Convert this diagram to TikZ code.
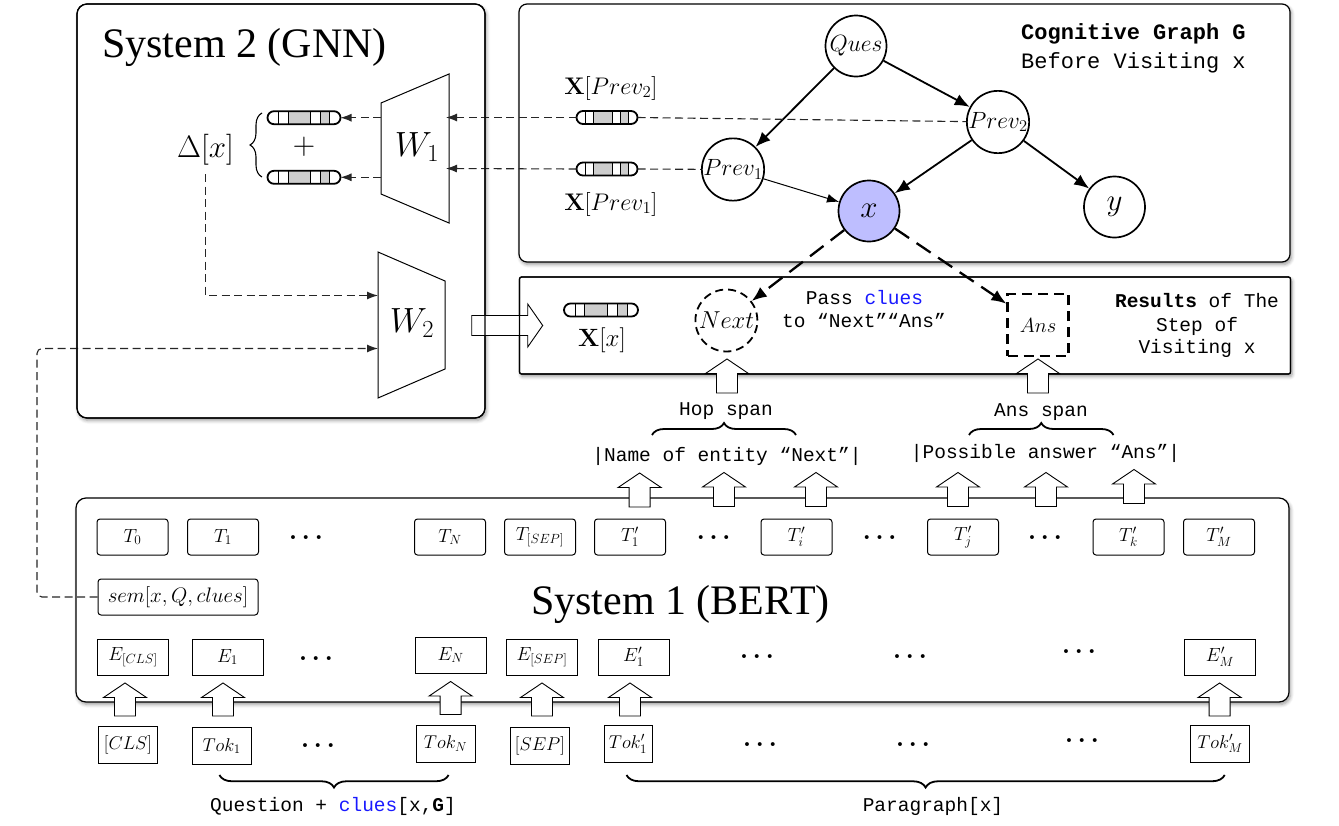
\RequirePackage{fix-cm}
\documentclass[tikz,border=0pt]{standalone}
\usepackage[no-math]{fontspec}
\setmainfont{Liberation Serif}
\newfontfamily\codefont{Liberation Mono}
\usepackage{amsmath}
\usetikzlibrary{arrows.meta,calc,decorations.pathreplacing,shadows.blur}

\definecolor{visitfill}{RGB}{190,190,255}
\definecolor{clueblue}{RGB}{25,25,255}
\definecolor{cellgray}{RGB}{205,205,205}

\newcommand{\fsz}[1]{\fontsize{#1}{#1}\selectfont}

\tikzset{
  panel/.style={draw, line width=1.2pt, fill=white, outer sep=0pt, inner sep=0pt,
    rounded corners=#1,
    blur shadow={shadow xshift=1.5pt, shadow yshift=-2.5pt,
      shadow blur radius=3.5pt, shadow blur steps=6}},
  panelline/.style={draw, line width=1.2pt, rounded corners=#1},
  tbox/.style={draw, line width=1pt, rounded corners=3pt, minimum width=71pt,
    minimum height=36pt, inner sep=0pt, font=\fsz{19}},
  ebox/.style={draw, line width=1pt, minimum width=71pt, minimum height=36pt,
    inner sep=0pt, font=\fsz{19}},
  tokbox/.style={draw, line width=1pt, minimum width=59pt, minimum height=37pt,
    inner sep=0pt, font=\fsz{18.5}},
  dotsl/.style={inner sep=0pt, font=\fsz{25}},
  gnode/.style={circle, draw, line width=1.7pt, minimum size=61pt, inner sep=0pt,
    font=\fsz{23.5}},
  gedge/.style={line width=1.8pt, -{Latex[length=15pt,width=12pt]}},
  gedgethin/.style={line width=1pt, -{Latex[length=12pt,width=9pt]}},
  hopline/.style={line width=2.3pt, dash pattern=on 17pt off 9pt,
    -{Latex[length=15pt,width=12pt]}},
  dlink/.style={line width=1.1pt, black!85, dash pattern=on 8pt off 4.5pt},
  dtip/.style={-{Latex[length=11pt,width=8pt]}},
  code/.style={inner sep=0pt, font=\codefont\fsz{19.5}},
  codebig/.style={inner sep=0pt, font=\codefont\fsz{22}},
  mlabel/.style={inner sep=0pt, font=\fsz{#1}},
  bracetop/.style={decorate, decoration={brace, amplitude=12pt}, line width=1.8pt},
  bracebottom/.style={decorate, decoration={brace, mirror, amplitude=12.5pt},
    line width=1.8pt},
  % capsule-shaped feature vector with white and grey cells
  vecbar/.style={draw, line width=1.8pt, rounded corners=6.5pt, minimum width=#1,
    minimum height=13pt, inner sep=0pt, outer sep=0pt,
    path picture={
      \path (path picture bounding box.south west) coordinate (vbA)
            (path picture bounding box.north east) coordinate (vbB);
      \fill[cellgray, sharp corners] ($(vbA)!0.28!(vbA-|vbB)$) rectangle ($(vbB-|vbA)!0.59!(vbB)$);
      \fill[cellgray, sharp corners] ($(vbA)!0.72!(vbA-|vbB)$) rectangle ($(vbB-|vbA)!0.85!(vbB)$);
      \foreach \f in {0.15,0.28,0.59,0.72,0.85}
        \draw[line width=0.8pt, sharp corners] ($(vbA)!\f!(vbA-|vbB)$) -- ($(vbB-|vbA)!\f!(vbB)$);
    }},
  % hollow block arrows
  hollowup/.pic={
    \draw[line width=0.9pt, fill=white, sharp corners]
      (-10.5,0) -- (-10.5,-#1+14.5) -- (-21.5,-#1+14.5) -- (0,-#1)
      -- (21.5,-#1+14.5) -- (10.5,-#1+14.5) -- (10.5,0) -- cycle;
  },
  hollowright/.pic={
    \draw[line width=0.9pt, fill=white, sharp corners]
      (0,-10) -- (#1-15,-10) -- (#1-15,-21.5) -- (#1,0)
      -- (#1-15,21.5) -- (#1-15,10) -- (0,10) -- cycle;
  },
}

\begin{document}
\begin{tikzpicture}[x=1pt, y=-1pt]
\useasboundingbox (0,0) rectangle (1339,825);

% ---------- panels ----------
\node[panel=10pt, minimum width=408pt, minimum height=414pt] (sys2) at (281,211) {};
\node[panel=8pt, minimum width=771pt, minimum height=258pt] (cog) at (904.5,133) {};
\node[panel=2pt, minimum width=771pt, minimum height=97pt] (res) at (905,325.5) {};
\node[panel=10pt, minimum width=1213pt, minimum height=204pt] (sys1) at (682.5,600) {};

% ---------- System 2 (GNN) ----------
\node[anchor=base west, inner sep=0pt, font=\fsz{42}] (sys2title) at (102,57.7) {System 2 (GNN)};

\coordinate (w1a) at (381,103);
\coordinate (w1b) at (449,74);
\coordinate (w1c) at (449,223);
\coordinate (w1d) at (381,194);
\draw[line width=1pt] (w1a) -- (w1b) -- (w1c) -- (w1d) -- cycle;
\node[mlabel=35] (w1) at (417,147) {$W_1$};

\coordinate (w2a) at (378,252);
\coordinate (w2b) at (445,281);
\coordinate (w2c) at (445,369);
\coordinate (w2d) at (378,398);
\draw[line width=1pt] (w2a) -- (w2b) -- (w2c) -- (w2d) -- cycle;
\node[mlabel=35] (w2) at (412,323) {$W_2$};

\coordinate (w1in1) at (446,117.5);
\coordinate (w1in2) at (446,168.5);
\coordinate (w1out1) at (381,117.7);
\coordinate (w1out2) at (381,177.3);
\coordinate (w2in1) at (378,295.5);
\coordinate (w2in2) at (378,348.5);
\coordinate (semturn) at (37,348.5);

\node[vecbar=73pt] (d1) at (304,117.7) {};
\node[vecbar=73pt] (d2) at (304,177.3) {};
\node[mlabel=31] (plus) at (304,147) {$+$};
\node[mlabel=31] (dx) at (205.5,149.5) {$\Delta[x]$};
\draw[decorate, decoration={brace, amplitude=12pt}, line width=1.1pt] (262,177) -- (262,113);

\draw[dlink, dtip] (w1out1) -- (d1.east);
\draw[dlink, dtip] (w1out2) -- (d2.east);
\draw[dlink, dtip, shorten <=9pt] (dx.south) |- (w2in1);

% ---------- Cognitive graph ----------
\node[codebig, anchor=base west] (cgtitle) at (1021,39.5) {\bfseries Cognitive Graph G};
\node[codebig, anchor=base west] (cgsub) at (1021,68.5) {Before Visiting x};

\node[gnode] (ques) at (856,46) {$Ques$};
\node[gnode] (prev2) at (998,122) {$Prev_2$};
\node[gnode] (prev1) at (733,169.5) {$Prev_1$};
\node[gnode, fill=visitfill, font=\fsz{31}] (xn) at (869,211) {$x$};
\node[gnode, font=\fsz{31}] (yn) at (1114.5,207) {$y$};

\draw[gedge] (ques) -- (prev1);
\draw[gedge] (ques) -- (prev2);
\draw[gedge] (prev2) -- (xn);
\draw[gedge] (prev2) -- (yn);
\draw[gedgethin] (prev1) -- (xn);

\node[vecbar=61pt] (p2bar) at (607,117.5) {};
\node[vecbar=61pt] (p1bar) at (607,169) {};
\node[mlabel=24] (p2lab) at (610.8,88.3) {$\mathbf{X}[Prev_2]$};
\node[mlabel=24] (p1lab) at (610.8,204.2) {$\mathbf{X}[Prev_1]$};

\draw[dlink] (p2bar.east) -- (prev2);
\draw[dlink, dtip] (p2bar.west) -- (w1in1);
\draw[dlink] (p1bar.east) -- (prev1);
\draw[dlink, dtip] (p1bar.west) -- (w1in2);

% ---------- Results of the step ----------
\node[vecbar=74pt] (xbar) at (601,310) {};
\node[mlabel=25] (xlab) at (602,340.3) {$\mathbf{X}[x]$};
\node[circle, draw, line width=1.8pt, dash pattern=on 8pt off 5pt, minimum size=62pt,
  inner sep=0pt, font=\fsz{24.5}] (next) at (726.4,320.5) {$Next$};
\node[draw, line width=2.3pt, dash pattern=on 10pt off 6pt, minimum width=61pt,
  minimum height=62pt, inner sep=0pt, font=\fsz{20.5}] (ans) at (1038,325) {$Ans$};
\draw[hopline] (xn) -- (next);
\draw[hopline] (xn) -- (ans);

\node[code, anchor=base] (pass1) at (864.5,304.3) {Pass \textcolor{clueblue}{clues}};
\node[code, anchor=base] (pass2) at (864,327.3) {to “Next”“Ans”};
\node[code, anchor=base] (res1) at (1197,307.7) {\textbf{Results} of The};
\node[code, anchor=base] (res2) at (1197,331) {Step of};
\node[code, anchor=base] (res3) at (1197,353.5) {Visiting x};

% ---------- spans ----------
\node[code, anchor=base] (hoplab) at (726,415) {Hop span};
\node[code, anchor=base] (anslab) at (1041,416.5) {Ans span};
\draw[bracetop] (652,435) -- (796,435);
\draw[bracetop] (969,435) -- (1113.5,435);
\node[code, anchor=base] (hoptext) at (727,461.7) {|Name of entity “Next”|};
\node[code, anchor=base] (anstext) at (1045.5,458.3) {|Possible answer “Ans”|};

% ---------- System 1 (BERT) ----------
\node[anchor=base west, inner sep=0pt, font=\fsz{42}] (sys1title) at (531,614) {System 1 (BERT)};

% output row
\node[tbox] (t0) at (132.5,537) {$T_0$};
\node[tbox] (t1) at (223,537) {$T_1$};
\node[dotsl] (tdots1) at (306,538) {{\boldmath$\ldots$}};
\node[tbox] (tn) at (450,537) {$T_N$};
\node[tbox] (tsep) at (540,537) {$T_{[SEP]}$};
\node[tbox] (tp1) at (630,537) {$T'_1$};
\node[dotsl] (tdots2) at (713.6,538) {{\boldmath$\ldots$}};
\node[tbox] (tpi) at (796.5,537) {$T'_i$};
\node[dotsl] (tdots3) at (879.6,538) {{\boldmath$\ldots$}};
\node[tbox] (tpj) at (963,537) {$T'_j$};
\node[dotsl] (tdots4) at (1045,538) {{\boldmath$\ldots$}};
\node[tbox] (tpk) at (1128.5,537) {$T'_k$};
\node[tbox] (tpm) at (1219,537) {$T'_M$};

\node[tbox, minimum width=160pt, font=\fsz{21}] (sem) at (178,597) {$sem[x,Q,clues]$};
\draw[dlink, dtip, rounded corners=5pt] (sem.west) -| (semturn) -- (w2in2);

% embedding row
\node[ebox] (ecls) at (133,657) {$E_{[CLS]}$};
\node[ebox] (e1) at (227.5,657) {$E_1$};
\node[dotsl] (edots1) at (316,659) {{\boldmath$\ldots$}};
\node[ebox] (en) at (450.6,655) {$E_N$};
\node[ebox] (esep) at (542,657) {$E_{[SEP]}$};
\node[ebox] (ep1) at (633.6,657) {$E'_1$};
\node[dotsl] (edots2) at (757,657) {{\boldmath$\ldots$}};
\node[dotsl] (edots3) at (910,657) {{\boldmath$\ldots$}};
\node[dotsl] (edots4) at (1079,652) {{\boldmath$\ldots$}};
\node[ebox] (epm) at (1220,657) {$E'_M$};

% token row
\node[tokbox] (cls) at (128,745) {$[CLS]$};
\node[tokbox] (tok1) at (221.6,746) {$Tok_1$};
\node[dotsl] (kdots1) at (318,746) {{\boldmath$\ldots$}};
\node[tokbox] (tokn) at (445.6,743.7) {$Tok_N$};
\node[tokbox] (sep) at (540,746) {$[SEP]$};
\node[tokbox, minimum width=48pt] (tokp1) at (628,744) {$Tok'_1$};
\node[dotsl] (kdots2) at (760,745) {{\boldmath$\ldots$}};
\node[dotsl] (kdots3) at (913,745) {{\boldmath$\ldots$}};
\node[dotsl] (kdots4) at (1082,741) {{\boldmath$\ldots$}};
\node[tokbox] (tokpm) at (1220,743.5) {$Tok'_M$};

% input groups
\draw[bracebottom] (219.4,775) -- (448.6,775);
\draw[bracebottom] (626.5,775) -- (1224.7,775);
\node[code, anchor=base] (qlab) at (333,811) {Question + \textcolor{clueblue}{clues}[x,\textbf{G}]};
\node[code, anchor=base] (plab) at (933,811) {Paragraph[x]};

% ---------- block arrows ----------
\pic at (471.7,325.5) {hollowright=71};
\draw[panelline=10pt] (sys2.north west) rectangle (sys2.south east);
\draw[panelline=2pt] (res.north west) rectangle (res.south east);

\foreach \cx/\by in {125/716, 223/716, 450.6/714.5, 542/716, 630/716, 1219.6/716}
  \pic at (\cx,\by) {hollowup=33};
\foreach \cx/\by in {639.6/507, 724/506.5, 816/506.5, 958/506.5, 1046/506.5, 1134/503.5}
  \pic at (\cx,\by) {hollowup=34};
\foreach \cx in {727, 1038}
  \pic at (\cx,393) {hollowup=34};

\end{tikzpicture}
\end{document}
